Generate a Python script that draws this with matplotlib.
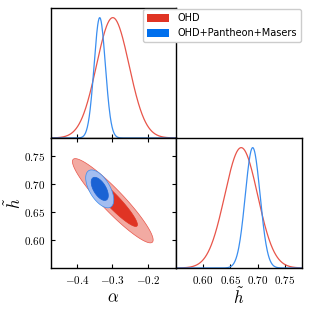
import matplotlib
matplotlib.use("Agg")
import matplotlib.pyplot as plt
import numpy as np
from matplotlib.patches import Patch
from matplotlib.ticker import FuncFormatter

plt.rcParams['mathtext.fontset'] = 'cm'

# posterior summaries (peak, width, correlation)
labels = ["OHD", "OHD+Pantheon+Masers"]
alpha_mean = [-0.299, -0.336]
h_mean = [0.670, 0.691]
alpha_sigma = [0.046, 0.016]
h_sigma = [0.030, 0.0135]
corr = [-0.93, -0.58]
levels_chi2 = [2.30, 6.17]  # 68% / 95% contours

line_cols = ["#e8554a", "#3a8ef0"]
dark_cols = ["#e03424", "#1a62d4"]
light_cols = ["#f2aaa2", "#a4bdf0"]
legend_cols = ["#e03424", "#006fed"]

alpha_ticks = [-0.4, -0.3, -0.2]
h_ticks = [0.60, 0.65, 0.70, 0.75]
alpha_lim = (-0.474, -0.120)
h_lim = (0.551, 0.781)

fig = plt.figure(figsize=(3.1, 3.1), dpi=100)
W, H = 310.0, 310.0
def box(x0, y0, x1, y1):
    return [x0 / W, 1 - y1 / H, (x1 - x0) / W, (y1 - y0) / H]

ax_a = fig.add_axes(box(51, 8, 176, 138))
ax_2d = fig.add_axes(box(51, 138, 176, 268))
ax_h = fig.add_axes(box(176, 138, 302, 268))

def fmt(v, p):
    s = "%.1f" % v if abs(v) < 0.5 else "%.2f" % v
    return r"$\mathbf{%s}$" % s
bold = FuncFormatter(fmt)

xa = np.linspace(alpha_lim[0], alpha_lim[1], 400)
xh = np.linspace(h_lim[0], h_lim[1], 400)
t = np.linspace(0, 2 * np.pi, 300)

for i in range(2):
    pa = np.exp(-0.5 * ((xa - alpha_mean[i]) / alpha_sigma[i]) ** 2)
    ph = np.exp(-0.5 * ((xh - h_mean[i]) / h_sigma[i]) ** 2)
    ax_a.plot(xa, pa, color=line_cols[i], lw=0.9)
    ax_h.plot(xh, ph, color=line_cols[i], lw=0.9)

    sa, sh, r = alpha_sigma[i], h_sigma[i], corr[i]
    cov = np.array([[sa * sa, r * sa * sh], [r * sa * sh, sh * sh]])
    L = np.linalg.cholesky(cov)
    for k, fc, ec in [(levels_chi2[1], light_cols[i], line_cols[i]),
                      (levels_chi2[0], dark_cols[i], dark_cols[i])]:
        pts = L @ (np.sqrt(k) * np.vstack([np.cos(t), np.sin(t)]))
        ax_2d.fill(alpha_mean[i] + pts[0], h_mean[i] + pts[1], facecolor=fc,
                   edgecolor=ec, lw=0.5)

for ax in (ax_a, ax_2d, ax_h):
    ax.tick_params(direction='in', length=3, width=0.8, labelsize=8, pad=4)
    for s in ax.spines.values():
        s.set_linewidth(1.0)

ax_a.set_xlim(alpha_lim)
ax_a.set_ylim(0, 1.08)
ax_a.set_xticks(alpha_ticks)
ax_a.set_xticklabels([])
ax_a.set_yticks([])

ax_2d.set_xlim(alpha_lim)
ax_2d.set_ylim(h_lim)
ax_2d.set_xticks(alpha_ticks)
ax_2d.set_yticks(h_ticks)
ax_2d.xaxis.set_major_formatter(bold)
ax_2d.yaxis.set_major_formatter(bold)
ax_2d.tick_params(top=True, right=True)
ax_2d.set_xlabel(r"$\alpha$", fontsize=12, labelpad=2)
ax_2d.set_ylabel(r"$\tilde{h}$", fontsize=12)
ax_2d.yaxis.set_label_coords(-0.21, 0.5)

ax_h.set_xlim(h_lim)
ax_h.set_ylim(0, 1.08)
ax_h.set_xticks(h_ticks)
ax_h.xaxis.set_major_formatter(bold)
ax_h.set_yticks([])
ax_h.set_xlabel(r"$\tilde{h}$", fontsize=12, labelpad=1)

handles = [Patch(facecolor=c) for c in legend_cols]
fig.legend(handles, labels, loc='upper right', bbox_to_anchor=(301 / W, 1 - 9 / H),
           borderaxespad=0, fontsize=7, handlelength=2.3, handleheight=0.9,
           handletextpad=0.9, labelspacing=0.55, borderpad=0.4,
           fancybox=True, framealpha=1, edgecolor="#cccccc")

fig.savefig("out.png", dpi=100)
